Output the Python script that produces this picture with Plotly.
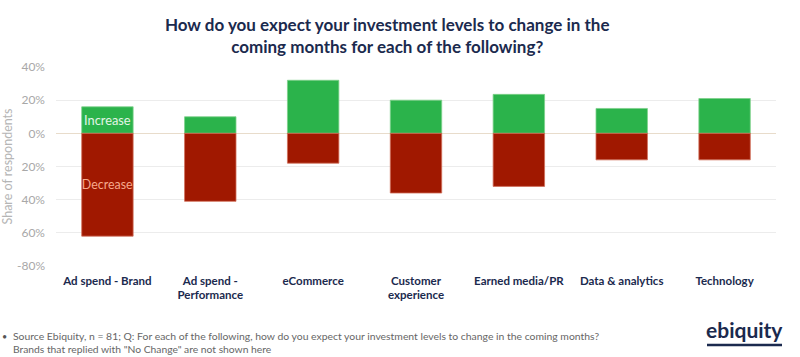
import plotly.graph_objects as go

categories = ["Ad spend - Brand", "Ad spend -<br>Performance", "eCommerce",
              "Customer<br>experience", "Earned media/PR", "Data & analytics", "Technology"]
increase = [16, 10, 32, 20, 23.5, 15, 21]
decrease = [-62, -41, -18, -36, -32, -16, -16]
inc_labels = ["Increase", "", "", "", "", "", ""]
dec_labels = ["Decrease", "", "", "", "", "", ""]
tick_vals = [40, 20, 0, -20, -40, -60, -80]
tick_text = ["40%", "20%", "0%", "20%", "40%", "60%", "-80%"]

NAVY = "#1b2a4e"
FONT = "Lato"

fig = go.Figure()
fig.add_trace(go.Bar(
    x=categories, y=increase, name="Increase",
    marker=dict(color="#2bb34b", line=dict(color="#7dd08a", width=0.8)),
    text=inc_labels, textposition="inside", insidetextanchor="middle", textangle=0,
    constraintext="none",
    textfont=dict(color="#e3f5e6", size=12.8, family=FONT),
    hoverinfo="skip"))
fig.add_trace(go.Bar(
    x=categories, y=decrease, name="Decrease",
    marker=dict(color="#a01800", line=dict(color="#d0705a", width=0.8)),
    text=dec_labels, textposition="inside", insidetextanchor="middle", textangle=0,
    constraintext="none",
    textfont=dict(color="#f7a88c", size=12.4, family=FONT),
    hoverinfo="skip"))

fig.update_layout(
    width=800, height=357,
    barmode="relative", bargap=0.5,
    showlegend=False,
    plot_bgcolor="white", paper_bgcolor="white",
    margin=dict(l=56, r=24, t=67, b=91),
    font=dict(family=FONT),
    title=dict(
        text="How do you expect your investment levels to change in the<br>coming months for each of the following?",
        x=0.484, xanchor="center", y=0.913, yanchor="top",
        font=dict(size=17, color=NAVY, family=FONT, weight="bold")),
    xaxis=dict(
        showgrid=False, showline=False, zeroline=False, automargin=False,
        tickfont=dict(size=11.5, color=NAVY, family=FONT, weight="bold"),
        ticks="", ticklabelstandoff=6),
    yaxis=dict(
        range=[-80, 40], tickvals=tick_vals, ticktext=tick_text, automargin=False,
        showgrid=True, gridcolor="#ececec", gridwidth=1,
        zeroline=True, zerolinecolor="#e8dccb", zerolinewidth=1,
        tickfont=dict(size=12, color="#a8a8a8", family=FONT),
        ticks="", ticklabelstandoff=10,
        title=dict(text="Share of respondents", font=dict(size=12.5, color="#b5b5b5", family=FONT),
                   standoff=5)),
)

fig.add_annotation(
    xref="paper", yref="paper", x=-56/720, y=-70/199, xanchor="left", yanchor="middle",
    text="•", showarrow=False, font=dict(size=9, color="#555", family=FONT))
fig.add_annotation(
    xref="paper", yref="paper", x=-45/720, y=-70/199, xanchor="left", yanchor="middle",
    text="Source Ebiquity, n = 81; Q: For each of the following, how do you expect your investment levels to change in the coming months?",
    showarrow=False, font=dict(size=10.4, color="#666", family=FONT))
fig.add_annotation(
    xref="paper", yref="paper", x=-45/720, y=-83/199, xanchor="left", yanchor="middle",
    text="Brands that replied with \"No Change\" are not shown here",
    showarrow=False, font=dict(size=10.3, color="#666", family=FONT))
fig.add_annotation(
    xref="paper", yref="paper", x=(744.5-56)/720, y=(266-329)/199, xanchor="center", yanchor="middle",
    text="ebiquity", showarrow=False, font=dict(size=21, color=NAVY, family=FONT, weight="bold"))
fig.add_shape(
    type="line", xref="paper", yref="paper",
    x0=(707-56)/720, x1=(782-56)/720, y0=(266-345)/199, y1=(266-345)/199,
    line=dict(color=NAVY, width=2.5))

fig.write_html("out.html", config={"displayModeBar": False},
               post_script="document.body.style.margin='0';document.body.style.overflow='hidden';")
